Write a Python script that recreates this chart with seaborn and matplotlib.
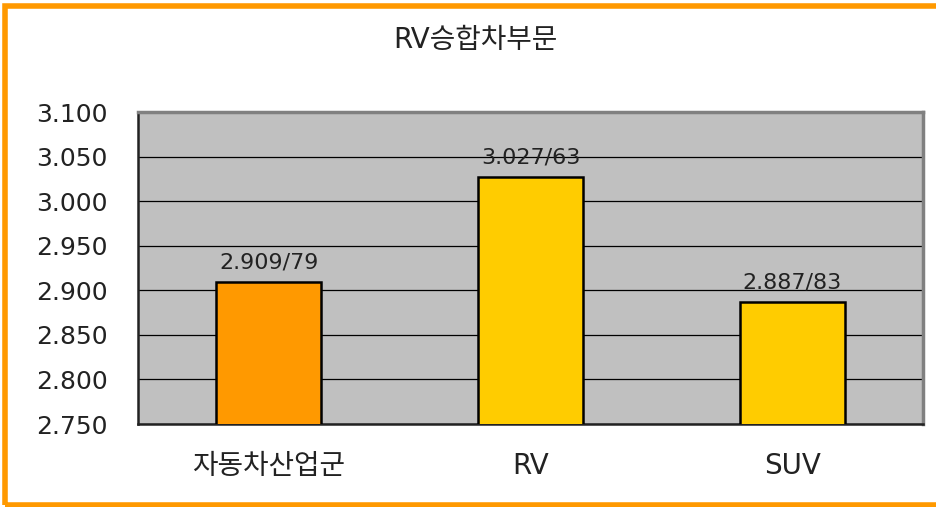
import matplotlib
matplotlib.use("Agg")
import matplotlib.pyplot as plt
from matplotlib.patches import Rectangle
from matplotlib.ticker import FixedLocator, FuncFormatter
import seaborn as sns
import pandas as pd

categories = ["자동차산업군", "RV", "SUV"]
values = [2.909, 3.027, 2.887]
bar_labels = ["2.909/79", "3.027/63", "2.887/83"]
colors = ["#FF9900", "#FFCC00", "#FFCC00"]
title = "RV승합차부문"
y_ticks = [2.750, 2.800, 2.850, 2.900, 2.950, 3.000, 3.050, 3.100]

sns.set_style("white")
plt.rcParams['font.family'] = ['DejaVu Sans', 'Noto Sans CJK KR']

df = pd.DataFrame({"cat": categories, "val": values})

fig = plt.figure(figsize=(9.37, 5.07), dpi=100)
ax = fig.add_axes([138/937, 1-424/507, 785/937, 312/507])
ax.set_facecolor("#C0C0C0")

sns.barplot(data=df, x="cat", y="val", hue="cat", palette=colors, legend=False,
            saturation=1, width=0.4, edgecolor="black", linewidth=1.8, ax=ax, zorder=3)

ax.set_ylim(2.75, 3.10)
ax.set_xlim(-0.5, 2.5)
ax.set_yticks(y_ticks)
ax.yaxis.set_major_formatter(FuncFormatter(lambda v, p: f"{v:.3f}"))
for t in y_ticks:
    ax.axhline(t, color="black", linewidth=0.9, zorder=1)

ax.set_xlabel("")
ax.set_ylabel("")
ax.tick_params(axis="y", direction="in", length=4, width=1, color="#404040",
               labelsize=18, pad=22, labelcolor="#222222")
ax.tick_params(axis="x", which="major", length=0, labelsize=20, pad=20, labelcolor="#222222")
ax.xaxis.set_minor_locator(FixedLocator([0.5, 1.5]))
ax.tick_params(axis="x", which="minor", direction="in", length=6, width=1, color="#333333")

for side in ["left", "bottom"]:
    ax.spines[side].set_color("#222222")
    ax.spines[side].set_linewidth(1.8)
for side in ["top", "right"]:
    ax.spines[side].set_visible(True)
    ax.spines[side].set_color("#808080")
    ax.spines[side].set_linewidth(2.5)

for i, (v, lab) in enumerate(zip(values, bar_labels)):
    ax.annotate(lab, (i, v), xytext=(0, 7), textcoords="offset points",
                ha="center", va="bottom", fontsize=16, color="#222222", zorder=5)

fig.text(475/937, 1-40/507, title, ha="center", va="center", fontsize=20, color="#222222")

fig.patches.append(Rectangle((5.5/937, 2.5/507), 2.0, 1-8/507, transform=fig.transFigure,
                             fill=False, edgecolor="#FF9900", linewidth=4.0, figure=fig))

fig.savefig("out.png", dpi=100)
